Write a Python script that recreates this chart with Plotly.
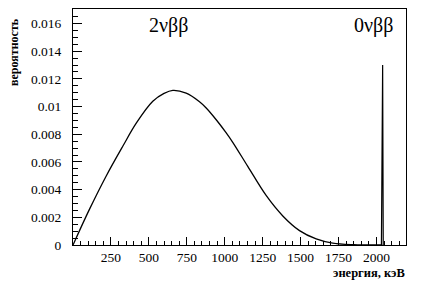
import plotly.graph_objects as go

# 2νββ spectrum
energy_2nu = [0, 109, 219, 329, 417, 526, 600, 658, 746, 834, 878, 944, 1010, 1053, 1152, 1273, 1383, 1493, 1603, 1712, 1850, 2039]
prob_2nu = [0, 0.00259, 0.00499, 0.00715, 0.00880, 0.01038, 0.01095, 0.01117, 0.01097, 0.01035, 0.00990, 0.00905, 0.00810, 0.00742, 0.00568, 0.00358, 0.00210, 0.00104, 0.00044, 0.00013, 0.00002, 0]

# 0νββ peak
energy_0nu = [2033, 2037, 2041, 2045]
prob_0nu = [0, 0.013, 0.013, 0]

x_ticks = [250, 500, 750, 1000, 1250, 1500, 1750, 2000]
y_ticks = [0, 0.002, 0.004, 0.006, 0.008, 0.01, 0.012, 0.014, 0.016]
y_ticktext = ["0", "0.002", "0.004", "0.006", "0.008", "0.01", "0.012", "0.014", "0.016"]

serif = "Liberation Serif, Times New Roman, serif"
OFF = 8  # default page body margin
W, H = 427 - OFF, 290 - OFF
L, R, T, B = 73 - OFF, 21, 9 - OFF, 45

fig = go.Figure()
fig.add_trace(go.Scatter(x=energy_2nu, y=prob_2nu, mode="lines",
                         line=dict(color="black", width=1.3, shape="spline", smoothing=1.0),
                         showlegend=False, hoverinfo="skip"))
fig.add_trace(go.Scatter(x=energy_0nu, y=prob_0nu, mode="lines",
                         line=dict(color="black", width=1.2),
                         showlegend=False, hoverinfo="skip"))

fig.update_layout(
    width=W, height=H,
    margin=dict(l=L, r=R, t=T, b=B, autoexpand=False),
    paper_bgcolor="white", plot_bgcolor="white",
    font=dict(family=serif, size=13, color="black"),
    xaxis=dict(range=[0, 2195], tickmode="array", tickvals=x_ticks, automargin=False,
               ticks="inside", ticklen=8, tickwidth=1, tickcolor="black",
               showline=True, linecolor="black", linewidth=1, mirror=True,
               showgrid=False, zeroline=False,
               tickfont=dict(family=serif, size=13.5),
               minor=dict(tickmode="linear", tick0=0, dtick=50, ticks="inside",
                          ticklen=4, tickcolor="black", showgrid=False)),
    yaxis=dict(range=[0, 0.01705], tickmode="array", tickvals=y_ticks, ticktext=y_ticktext,
               automargin=False, ticklabelstandoff=8,
               ticks="inside", ticklen=9, tickwidth=1, tickcolor="black",
               showline=True, linecolor="black", linewidth=1, mirror=True,
               showgrid=False, zeroline=False,
               tickfont=dict(family=serif, size=13.5),
               minor=dict(tickmode="linear", tick0=0, dtick=0.0005, ticks="inside",
                          ticklen=5, tickcolor="black", showgrid=False)),
)

pw, ph = W - L - R, H - T - B
def add_px_text(text, sx, sy, size, xanchor="center", angle=0):
    # sx, sy: screen pixel position in the final page
    px, py = sx - OFF, sy - OFF
    fig.add_annotation(text=text, xref="paper", yref="paper",
                       x=(px - L) / pw, y=1 - (py - T) / ph,
                       xanchor=xanchor, yanchor="middle", showarrow=False,
                       textangle=angle, font=dict(family=serif, size=size))

add_px_text("2νββ", 168, 25, 20)
add_px_text("0νββ", 373, 25, 20)
add_px_text("<b>вероятность</b>", 14, 52, 12, angle=-90)
add_px_text("<b>энергия, кэВ</b>", 407, 273, 12.5, xanchor="right")

fig.write_html("out.html")
